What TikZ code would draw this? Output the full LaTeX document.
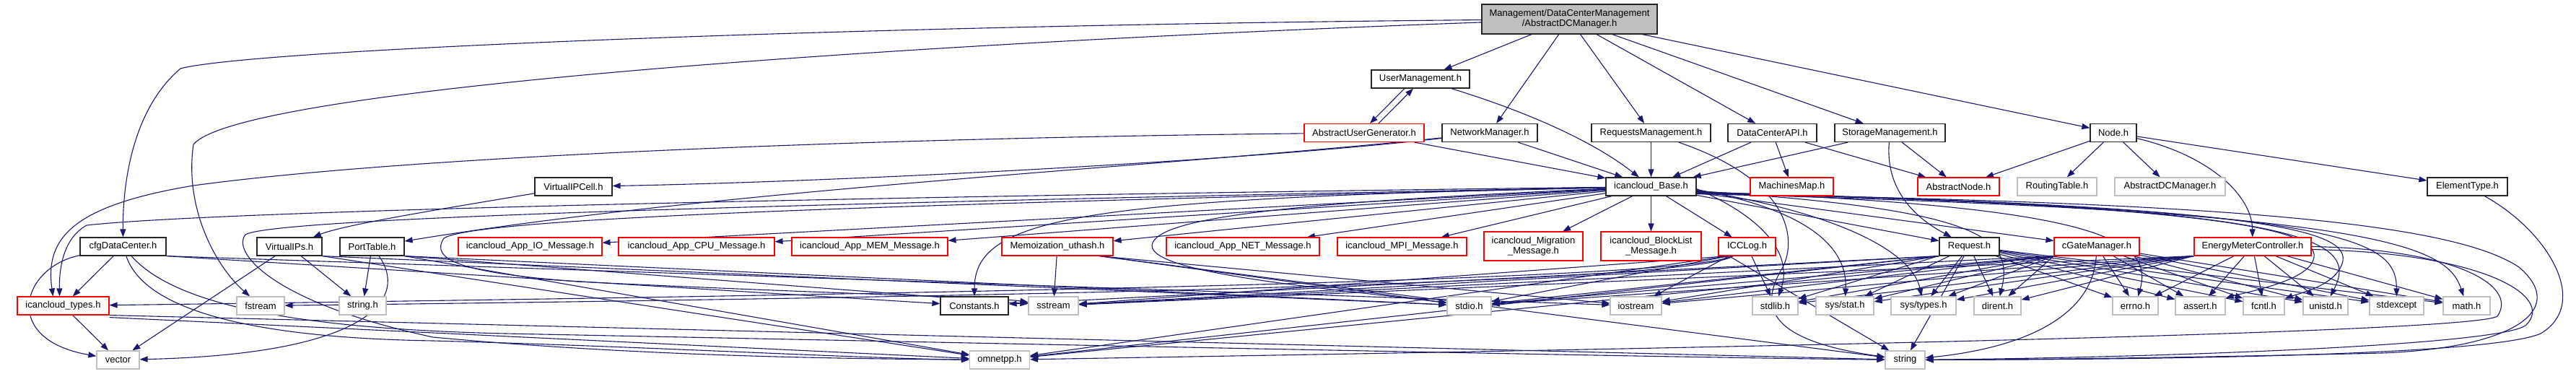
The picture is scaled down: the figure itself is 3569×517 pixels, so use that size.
\documentclass[tikz,border=0pt]{standalone}
\usepackage{fontspec}
\setmainfont{Liberation Sans}
\usetikzlibrary{arrows.meta,backgrounds}
\definecolor{edgeblue}{HTML}{191970}
\definecolor{boxgray}{HTML}{BFBFBF}
\begin{document}
\begin{tikzpicture}[x=1pt,y=-1pt,
  every node/.style={font=\fontsize{13pt}{14pt}\selectfont, inner sep=0pt, minimum height=25pt, align=center},
  blk/.style={draw=black!85, line width=1.2pt, fill=white},
  redb/.style={draw=red, line width=1.1pt, fill=white},
  gry/.style={draw=boxgray, line width=1.2pt, fill=white},
  e/.style={draw=edgeblue, line width=1.1pt, -{Triangle[length=11pt,width=8pt]}}]
\useasboundingbox (0,0) rectangle (3569,517);
% row 0
\node[blk, fill=boxgray, minimum width=243pt, minimum height=41pt] (root) at (2174.5,26.5) {Management/DataCenterManagement\\/AbstractDCManager.h};
% row 1
\node[blk, minimum width=136pt] (um) at (1968,109.5) {UserManagement.h};
% row 2
\node[redb, minimum width=166pt] (aug) at (1890,184) {AbstractUserGenerator.h};
\node[blk, minimum width=132pt] (nm) at (2064,184) {NetworkManager.h};
\node[blk, minimum width=165pt] (rm) at (2287.5,184) {RequestsManagement.h};
\node[blk, minimum width=123pt] (dca) at (2455.5,184) {DataCenterAPI.h};
\node[blk, minimum width=153pt] (sm) at (2618.5,184) {StorageManagement.h};
\node[blk, minimum width=64pt] (nodeh) at (2928,184) {Node.h};
% row 3
\node[blk, minimum width=107pt] (vipcell) at (794.5,258.5) {VirtualIPCell.h};
\node[blk, minimum width=125pt] (base) at (2287.5,258.5) {icancloud\_Base.h};
\node[redb, minimum width=115pt] (mm) at (2482.5,258.5) {MachinesMap.h};
\node[redb, minimum width=113pt] (an) at (2713.5,258.5) {AbstractNode.h};
\node[gry, minimum width=110pt] (rt) at (2850,258.5) {RoutingTable.h};
\node[gry, minimum width=153pt] (adcm) at (3006.5,258.5) {AbstractDCManager.h};
\node[blk, minimum width=111pt] (et) at (3418.5,258.5) {ElementType.h};
% row 4
\node[blk, minimum width=119pt] (cfg) at (170.5,341.5) {cfgDataCenter.h};
\node[blk, minimum width=90pt] (vips) at (401,341.5) {VirtualIPs.h};
\node[blk, minimum width=89pt] (pt) at (515.5,341.5) {PortTable.h};
\node[redb, minimum width=199pt] (io) at (734.5,341.5) {icancloud\_App\_IO\_Message.h};
\node[redb, minimum width=216pt] (cpu) at (965,341.5) {icancloud\_App\_CPU\_Message.h};
\node[redb, minimum width=216pt] (mem) at (1205,341.5) {icancloud\_App\_MEM\_Message.h};
\node[redb, minimum width=154pt] (memo) at (1465,341.5) {Memoization\_uthash.h};
\node[redb, minimum width=212pt] (net) at (1722,341.5) {icancloud\_App\_NET\_Message.h};
\node[redb, minimum width=179pt] (mpi) at (1942.5,341.5) {icancloud\_MPI\_Message.h};
\node[redb, minimum width=137pt, minimum height=40pt] (mig) at (2124.5,341) {icancloud\_Migration\\\_Message.h};
\node[redb, minimum width=139pt, minimum height=40pt] (bl) at (2287.5,341) {icancloud\_BlockList\\\_Message.h};
\node[redb, minimum width=79pt] (icclog) at (2420.5,341.5) {ICCLog.h};
\node[blk, minimum width=83pt] (req) at (2728.5,341.5) {Request.h};
\node[redb, minimum width=118pt] (cgm) at (2905,341.5) {cGateManager.h};
\node[redb, minimum width=162pt] (emc) at (3121,341.5) {EnergyMeterController.h};
% row 5
\node[redb, minimum width=127pt] (types) at (87.5,423.5) {icancloud\_types.h};
\node[gry, minimum width=66pt] (fstream) at (361,423.5) {fstream};
\node[gry, minimum width=65pt] (stringh) at (502.5,423.5) {string.h};
\node[blk, minimum width=94pt] (const) at (1350,423.5) {Constants.h};
\node[gry, minimum width=69pt] (sstream) at (1459.5,423.5) {sstream};
\node[gry, minimum width=61pt] (stdio) at (2035.5,423.5) {stdio.h};
\node[gry, minimum width=71pt] (iostream) at (2266.5,423.5) {iostream};
\node[gry, minimum width=63pt] (stdlib) at (2459.5,423.5) {stdlib.h};
\node[gry, minimum width=80pt] (sysstat) at (2556,423.5) {sys/stat.h};
\node[gry, minimum width=90pt] (systypes) at (2665,423.5) {sys/types.h};
\node[gry, minimum width=65pt] (dirent) at (2767.5,423.5) {dirent.h};
\node[gry, minimum width=63pt] (errno) at (2958.5,423.5) {errno.h};
\node[gry, minimum width=69pt] (assert) at (3048.5,423.5) {assert.h};
\node[gry, minimum width=57pt] (fcntl) at (3136.5,423.5) {fcntl.h};
\node[gry, minimum width=62pt] (unistd) at (3222,423.5) {unistd.h};
\node[gry, minimum width=75pt] (stdexcept) at (3320.5,423.5) {stdexcept};
\node[gry, minimum width=65pt] (math) at (3417.5,423.5) {math.h};
% row 6
\node[gry, minimum width=59pt] (vector) at (163.5,498.5) {vector};
\node[gry, minimum width=83pt] (omnetpp) at (1385,498.5) {omnetpp.h};
\node[gry, minimum width=55pt] (string) at (2639.5,498.5) {string};

\begin{scope}[on background layer]
% root
\draw[e] (root) .. controls (1200,35) and (350,68) .. (250,95) .. controls (185,150) and (170,250) .. (cfg);
\draw[e] (root) .. controls (1200,62) and (330,125) .. (268,200) .. controls (255,290) and (300,370) .. (fstream);
\foreach \t in {um,nm,rm,dca,sm,nodeh} \draw[e] (root) -- (\t);
% user management
\draw[e] ([xshift=-22pt]um.south) -- ([xshift=8pt]aug.north);
\draw[e] ([xshift=20pt]aug.north) -- ([xshift=-10pt]um.south);
\draw[e] (um) .. controls (2100,150) and (2200,190) .. (base);
\draw[e] (aug) -- (base);
\draw[e] (aug) .. controls (1300,190) and (600,212) .. (268,257) .. controls (100,285) and (62,330) .. ([xshift=-14pt]types.north);
% network manager
\draw[e] (nm) -- (base);
\draw[e] (nm) .. controls (1700,225) and (1150,252) .. (vipcell);
\draw[e] (nm) .. controls (1600,232) and (1000,262) .. (pt);
% requests management
\draw[e] (rm) -- (base);
\draw[e] (rm) .. controls (2480,250) and (2490,330) .. (2470,370) .. controls (2440,420) and (2440,470) .. (string);
% data center api
\draw[e] (dca) -- (base);
\draw[e] (dca) -- (mm);
\draw[e] (dca) -- (an);
% storage management
\draw[e] (sm) -- (base);
\draw[e] (sm) -- (an);
\draw[e] (sm) .. controls (2612,260) and (2650,300) .. (req);
% node
\draw[e] (nodeh) -- (an);
\draw[e] (nodeh) -- (rt);
\draw[e] (nodeh) -- (adcm);
\draw[e] (nodeh) .. controls (3060,215) and (3120,270) .. (emc);
\draw[e] (nodeh) -- (et);
% virtual ip cell
\draw[e] (vipcell) .. controls (640,285) and (480,310) .. (vips);
% element type
\draw[e] (et) .. controls (3530,320) and (3590,420) .. (3520,462) .. controls (3450,492) and (3000,498) .. (string);
% base: left fan
\draw[e] (base) .. controls (1200,272) and (300,292) .. (120,312) .. controls (88,330) and (82,370) .. ([xshift=-5pt]types.north);
\draw[e] (base) .. controls (1200,280) and (380,300) .. (340,325) .. controls (320,350) and (380,420) .. (600,467) .. controls (900,495) and (1200,497) .. (omnetpp);
\draw[e] (base) .. controls (1300,282) and (660,300) .. (615,330) .. controls (595,360) and (640,378) .. (800,390) .. controls (1100,405) and (1380,412) .. (sstream);
\draw[e] (base) .. controls (1800,280) and (1600,300) .. (1596,340) .. controls (1595,380) and (1850,400) .. (stdio);
\draw[e] (base) .. controls (1500,275) and (1350,300) .. (const);
\foreach \t in {io,cpu,mem,memo,net,mpi,mig,bl,icclog,req,cgm} \draw[e] (base) -- (\t);
% base: right fan
\draw[e] ([yshift=-3pt]base.east) .. controls (2440,300) and (2485,350) .. (stdlib);
\draw[e] ([yshift=-4pt]base.east) .. controls (2500,290) and (2560,340) .. (sysstat);
\draw[e] ([yshift=-5pt]base.east) .. controls (2550,295) and (2650,350) .. (systypes);
\draw[e] ([yshift=-6pt]base.east) .. controls (2750,290) and (2790,330) .. (dirent);
\draw[e] ([yshift=-7pt]base.east) .. controls (2900,285) and (2985,330) .. (errno);
\draw[e] ([yshift=-8pt]base.east) .. controls (3100,285) and (3220,320) .. (3205,360) .. controls (3195,390) and (3110,405) .. (assert);
\draw[e] ([yshift=-8pt]base.east) .. controls (3150,285) and (3260,320) .. (3245,365) .. controls (3235,395) and (3190,405) .. (fcntl);
\draw[e] ([yshift=-9pt]base.east) .. controls (3200,285) and (3270,330) .. (unistd);
\draw[e] ([yshift=-9pt]base.east) .. controls (3250,288) and (3320,330) .. (stdexcept);
\draw[e] ([yshift=-10pt]base.east) .. controls (3300,292) and (3390,340) .. (math);
\draw[e] ([yshift=-10pt]base.east) .. controls (3100,280) and (3400,310) .. (3490,370) .. controls (3560,430) and (3480,482) .. (3300,489) .. controls (3000,496) and (2800,498) .. (string);
% cfgDataCenter
\draw[e] (cfg) -- (types);
\draw[e] (cfg) .. controls (30,370) and (0,470) .. (vector);
\draw[e] (cfg) .. controls (200,430) and (350,468) .. (600,472) .. controls (900,480) and (1200,497) .. (omnetpp);
\draw[e] (cfg) .. controls (240,420) and (400,455) .. (700,462) .. controls (1500,478) and (2300,495) .. (string);
\draw[e] (cfg.south east) -- (const);
\draw[e] (cfg.south east) -- (iostream);
% icancloud_types
\draw[e] (types) -- (vector);
\draw[e] ([yshift=-3pt]types.south east) -- (omnetpp);
\draw[e] (types.south east) -- (string);
% VirtualIPs
\draw[e] (vips) -- (vector);
\draw[e] (vips) -- (stringh);
\draw[e] (vips.south east) -- (stdio);
\draw[e] (vips.south east) -- (omnetpp);
% PortTable
\draw[e] (pt) -- (stringh);
\draw[e] (pt) .. controls (565,410) and (520,490) .. (vector);
\draw[e] (pt.south east) -- (stdio);
\draw[e] (pt.south east) -- (sstream);
\draw[e] (pt.south east) -- (omnetpp);
% Memoization
\draw[e] (memo) -- (sstream);
\foreach \t in {stdio,iostream,string} \draw[e] ([xshift=-20pt]memo.south east) -- (\t);
% ICCLog
\draw[e] (icclog) -- (stdlib);
\foreach \t in {stdio,iostream,sstream,omnetpp,string} \draw[e] ([xshift=15pt]icclog.south west) -- (\t);
\draw[e] (icclog) .. controls (2350,385) and (1500,405) .. (types);
\draw[e] (icclog) .. controls (2350,390) and (1500,410) .. (fstream);
% Request
\foreach \t in {stdio,iostream,sstream,const,omnetpp} \draw[e] (req.south west) -- (\t);
\foreach \t in {stdlib,sysstat,systypes,dirent,string,errno,assert,fcntl,unistd,stdexcept,math} \draw[e] (req) -- (\t);
% cGateManager
\foreach \t in {stdio,iostream,sstream,omnetpp,stdlib,sysstat,systypes,dirent} \draw[e] (cgm.south west) -- (\t);
\foreach \t in {errno,assert,fcntl,unistd,stdexcept,math} \draw[e] (cgm) -- (\t);
\draw[e] (cgm) .. controls (2900,430) and (2820,480) .. (string);
% EnergyMeterController
\foreach \t in {stdio,iostream,sstream,stdlib,sysstat,systypes,dirent} \draw[e] (emc.south west) -- (\t);
\foreach \t in {errno,assert,fcntl,unistd,stdexcept,math} \draw[e] (emc) -- (\t);
\draw[e] (emc.east) .. controls (3400,345) and (3490,395) .. (3460,438) .. controls (3420,465) and (2000,488) .. (omnetpp);
\draw[e] ([yshift=-4pt]emc.east) .. controls (3440,350) and (3540,410) .. (3500,450) .. controls (3470,478) and (3000,495) .. (string);
\end{scope}
\end{tikzpicture}
\end{document}
